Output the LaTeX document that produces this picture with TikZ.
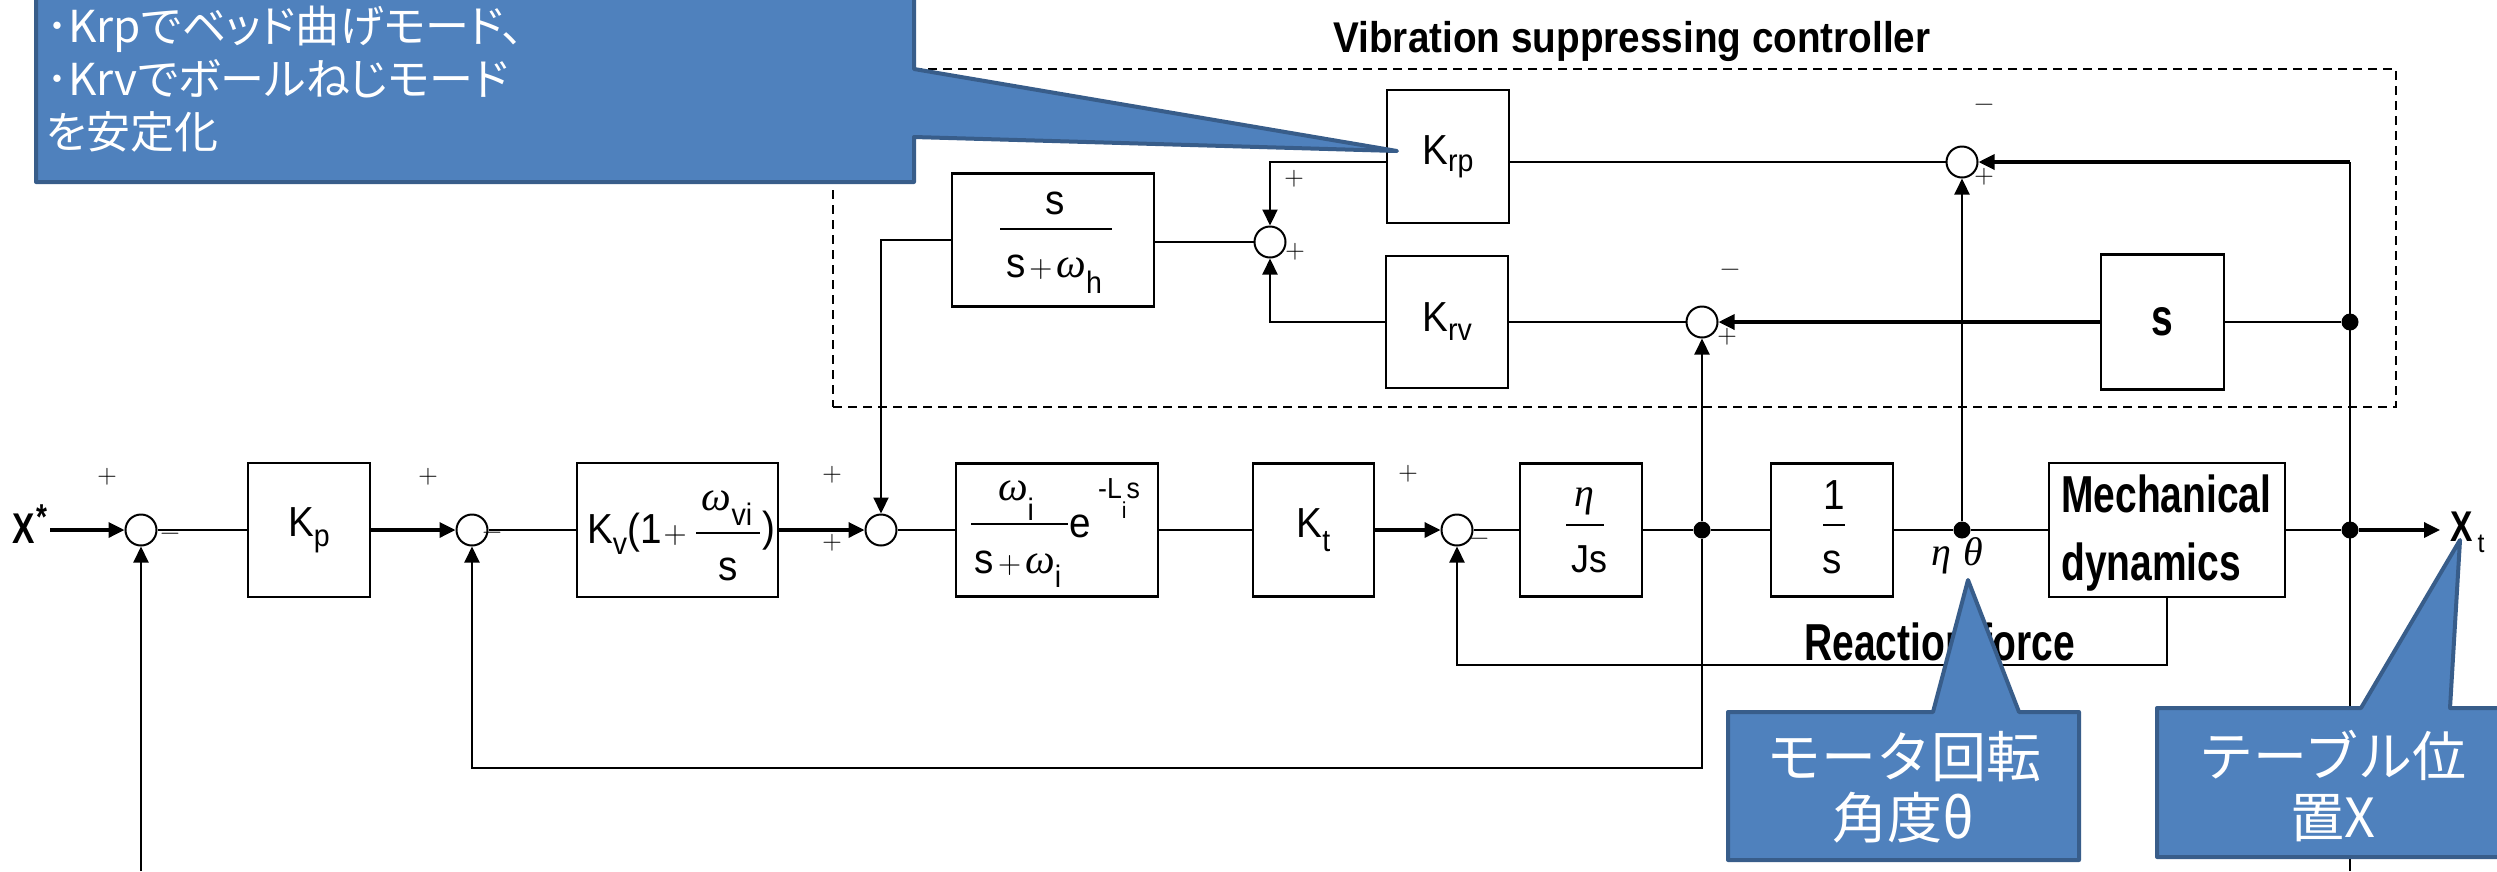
\documentclass[tikz,border=0pt]{standalone}
\usepackage{fontspec}
\usepackage{graphicx}
\usetikzlibrary{arrows.meta,calc}
\newfontfamily\cond{Liberation Sans}[FakeStretch=0.92]
\newfontfamily\condb{Liberation Sans Bold}[FakeStretch=0.75]
\newfontfamily\narb{Liberation Sans Bold}[FakeStretch=0.78]
\newfontfamily\titlef{Liberation Sans Bold}[FakeStretch=0.9]
\newfontfamily\jp{Noto Sans CJK JP}[RawFeature=+palt]
\newfontfamily\jpf{Noto Sans CJK JP}
\newfontfamily\grk{Liberation Serif}
\newfontfamily\lmr{Latin Modern Roman}
\definecolor{cfill}{HTML}{4F81BD}
\definecolor{cedge}{HTML}{385D8A}
\newcommand\dn[2][10pt]{\raisebox{-#1}{\fontsize{31}{31}\selectfont #2}}
\newcommand\om{{\grk\itshape\fontsize{42}{42}\selectfont ω}}
\newcommand\pl{{\lmr\fontsize{32}{32}\selectfont +}}
\newcommand\lab{\cond\fontsize{42}{46}\selectfont}
\begin{document}
\begin{tikzpicture}[x=1pt,y=-1pt,
  blk/.style={draw,line width=2.2pt,inner sep=0pt,font=\lab},
  sumc/.style={draw,circle,line width=2pt,minimum size=31pt,inner sep=0pt,fill=white},
  dotn/.style={circle,fill=black,minimum size=17pt,inner sep=0pt},
  ln/.style={line width=2.1pt},
  thk/.style={line width=3.4pt},
  arr/.style={-{Triangle[length=16pt,width=15pt]}},
  sgn/.style={inner sep=0pt,font=\lmr\fontsize{27}{27}\selectfont},
  txt/.style={inner sep=0pt,font=\lab},
  bar/.style={line width=2pt},
  callout/.style={fill=cfill,draw=cedge,line width=4pt,line join=round},
  ctext/.style={inner sep=0pt,text=white}]
\fill[white] (0,0) rectangle (2497,871);
\useasboundingbox (0,0) rectangle (2497,871);

% dashed frame and title
\node[draw,dash pattern=on 9pt off 6pt,line width=2pt,minimum width=1563pt,minimum height=338pt,inner sep=0pt] (vsc) at (1614.5,238) {};
\node[anchor=base,inner sep=0pt,font=\titlef\fontsize{43}{48}\selectfont] (ttl) at (1632,52) {Vibration suppressing controller};

% main path blocks
\node[blk,minimum width=122pt,minimum height=134pt] (Kp) at (309,530) {K\dn{p}};
\node[blk,minimum width=201pt,minimum height=134pt] (Kv) at (677.5,530) {};
\node[blk,minimum width=202pt,minimum height=133pt] (Wi) at (1057,530) {};
\node[blk,minimum width=121pt,minimum height=133pt] (Kt) at (1313.5,530) {K\dn[14pt]{t}};
\node[blk,minimum width=122pt,minimum height=133pt] (EJ) at (1581,530) {};
\node[blk,minimum width=122pt,minimum height=133pt] (Int) at (1832,530) {};
\node[blk,minimum width=236pt,minimum height=134pt] (Mech) at (2167,530) {};
% controller blocks
\node[blk,minimum width=202pt,minimum height=133pt] (Hp) at (1053,240) {};
\node[blk,minimum width=122pt,minimum height=133pt] (Krp) at (1448,156.5) {K\dn[7pt]{rp}};
\node[blk,minimum width=122pt,minimum height=132pt] (Krv) at (1447,322) {K\dn[9pt]{rv}};
\node[blk,minimum width=123pt,minimum height=135pt,font=\condb\fontsize{52}{52}\selectfont] (Sd) at (2162.5,322) {s};

% block contents
\node[txt,anchor=base west] (kvA) at (587,543) {K\dn[11pt]{v}(1\hspace{2pt}\pl};
\node[txt,anchor=base] (kvN) at (727,510) {\om\dn[15pt]{vi}};
\draw[bar] (696,533) -- (760,533);
\node[txt,anchor=base] (kvD) at (728,580) {s};
\node[txt,anchor=base] (kvP) at (769,541) {)};

\node[txt,anchor=base] (wiN) at (1016,500) {\om\dn[20pt]{i}};
\draw[bar] (971,524) -- (1068,524);
\node[txt,anchor=base] (wiD) at (1018,573) {s\hspace{4pt}\pl\hspace{4pt}\om\dn[14pt]{i}};
\node[txt,anchor=base] (wiE) at (1080,537) {e};
\node[txt,anchor=base west,font=\cond\fontsize{29}{29}\selectfont] (wiS) at (1098,498) {-L\raisebox{-20pt}{\fontsize{23}{23}\selectfont i}s};

\node[txt,font=\grk\itshape\fontsize{40}{40}\selectfont] (ejN) at (1584,501) {η};
\draw[bar] (1566,525) -- (1604,525);
\node[txt,font=\cond\fontsize{39}{39}\selectfont] (ejD) at (1589,559) {Js};

\node[txt] (inN) at (1834,495) {1};
\draw[bar] (1823,525) -- (1845,525);
\node[txt] (inD) at (1832,562) {s};

\node[txt] (hpN) at (1055,203) {s};
\draw[bar] (1000,229) -- (1112,229);
\node[txt,anchor=base] (hpD) at (1054,277) {s\hspace{4pt}\pl\hspace{4pt}\om\dn[16pt]{h}};

\node[txt,anchor=base west,font=\condb\fontsize{52}{52}\selectfont] (mc1) at (2061,512) {Mechanical};
\node[txt,anchor=base west,font=\condb\fontsize{52}{52}\selectfont] (mc2) at (2061,580) {dynamics};

% summing junctions and branch points
\node[sumc] (S1) at (141,530) {};
\node[sumc] (S2) at (472,530) {};
\node[sumc] (S3) at (881,530) {};
\node[sumc] (S5) at (1457,530) {};
\node[sumc] (S2u) at (1270,242) {};
\node[sumc] (S3u) at (1962,162) {};
\node[sumc] (S4) at (1702,322) {};
\node[dotn] (N1) at (1702,530) {};
\node[dotn] (N2) at (1962,530) {};
\node[dotn] (N3) at (2350,530) {};
\node[dotn] (N4) at (2350,322) {};
\coordinate (cX) at (50,530);
\coordinate (cXt) at (2440,530);
\coordinate (cB1) at (141,871);
\coordinate (cB2) at (2350,871);
\coordinate (cT) at (2350,162);
\coordinate (r1) at (2167,665);
\coordinate (v1) at (1702,768);

% signal labels
\node[anchor=base west,inner sep=0pt,font=\narb\fontsize{43}{43}\selectfont] (Xs) at (12,543) {X\hspace{2pt}\raisebox{14pt}{\fontsize{36}{36}\selectfont *}};
\node[anchor=base west,inner sep=0pt,font=\narb\fontsize{43}{43}\selectfont] (Xt) at (2450,541) {X\hspace{5pt}\raisebox{-11pt}{\cond\fontsize{27}{27}\selectfont t}};
\node[inner sep=0pt,font=\grk\itshape\fontsize{40}{40}\selectfont] (eth) at (1957,556) {η\hspace{12pt}θ};
\node[anchor=base west,inner sep=0pt,font=\condb\fontsize{52}{52}\selectfont] (rf) at (1804,660) {Reaction force};

% signs
\node[sgn] (p1) at (107,477) {+};
\node[sgn] (m1) at (170,537) {−};
\node[sgn] (p2) at (428,477) {+};
\node[sgn] (m2) at (492,536) {−};
\node[sgn] (p3a) at (832,475) {+};
\node[sgn] (p3b) at (832,543) {+};
\node[sgn] (p5) at (1408,474) {+};
\node[sgn] (m5) at (1479,542) {−};
\node[sgn] (p2ua) at (1294,179) {+};
\node[sgn] (p2ub) at (1295,252) {+};
\node[sgn] (m3u) at (1984,108) {−};
\node[sgn] (p3u) at (1984,177) {+};
\node[sgn] (m4) at (1730,273) {−};
\node[sgn] (p4) at (1727,337) {+};

% forward path
\draw[thk,arr] (cX) -- (S1);
\draw[ln] (S1) -- (Kp);
\draw[thk,arr] (Kp) -- (S2);
\draw[ln] (S2) -- (Kv);
\draw[thk,arr] (Kv) -- (S3);
\draw[ln] (S3) -- (Wi);
\draw[ln] (Wi) -- (Kt);
\draw[thk,arr] (Kt) -- (S5);
\draw[ln] (S5) -- (EJ);
\draw[ln] (EJ) -- (N1);
\draw[ln] (N1) -- (Int);
\draw[ln] (Int) -- (N2);
\draw[ln] (N2) -- (Mech);
\draw[ln] (Mech) -- (N3);
\draw[thk,arr] (N3) -- (cXt);
% feedbacks
\draw[ln,arr] (Mech.south) -- (r1) -| (S5.south);
\draw[ln,arr] (N1) -- (v1) -| (S2.south);
\draw[ln,arr] (cB1) -- (S1.south);
\draw[ln,arr] (N1) -- (S4.south);
\draw[ln,arr] (N2) -- (S3u.south);
\draw[ln] (cB2) -- (N3.center) -- (N4.center) -- (cT);
\draw[thk,arr] (cT) -- (S3u.east);
\draw[ln] (N4) -- (Sd);
\draw[thk,arr] (Sd) -- (S4);
\draw[ln] (S4) -- (Krv);
\draw[ln,arr] (Krv.west) -| (S2u.south);
\draw[ln] (S3u) -- (Krp.east |- S3u);
\draw[ln,arr] (Krp.west |- S3u) -| (S2u.north);
\draw[ln] (S2u) -- (Hp.east |- S2u);
\draw[ln,arr] (Hp.west) -- (S3 |- Hp.west) -- (S3.north);

% callouts
\draw[callout] (36,-20) -- (914,-20) -- (914,69) -- (1397,151) -- (914,137) -- (914,182) -- (36,182) -- cycle;
\node[ctext,anchor=north west,align=left,font=\jp\fontsize{44}{53}\selectfont] (c1t) at (46,6) {･Krpでベッド曲げモード、\\･Krvでボールねじモード\\を安定化};
\draw[callout] (1728,712) -- (1933,712) -- (1968,580) -- (2019,712) -- (2079,712) -- (2079,860) -- (1728,860) -- cycle;
\node[ctext,align=center,font=\jpf\fontsize{55}{61}\selectfont] (c2t) at (1904,787) {モータ回転\\角度θ};
\draw[callout] (2157,708) -- (2361,708) -- (2460,540) -- (2450,708) -- (2530,708) -- (2530,857) -- (2157,857) -- cycle;
\node[ctext,align=center,font=\jpf\fontsize{54}{61}\selectfont] (c3t) at (2333,786) {テーブル位\\置X};
\end{tikzpicture}
\end{document}
